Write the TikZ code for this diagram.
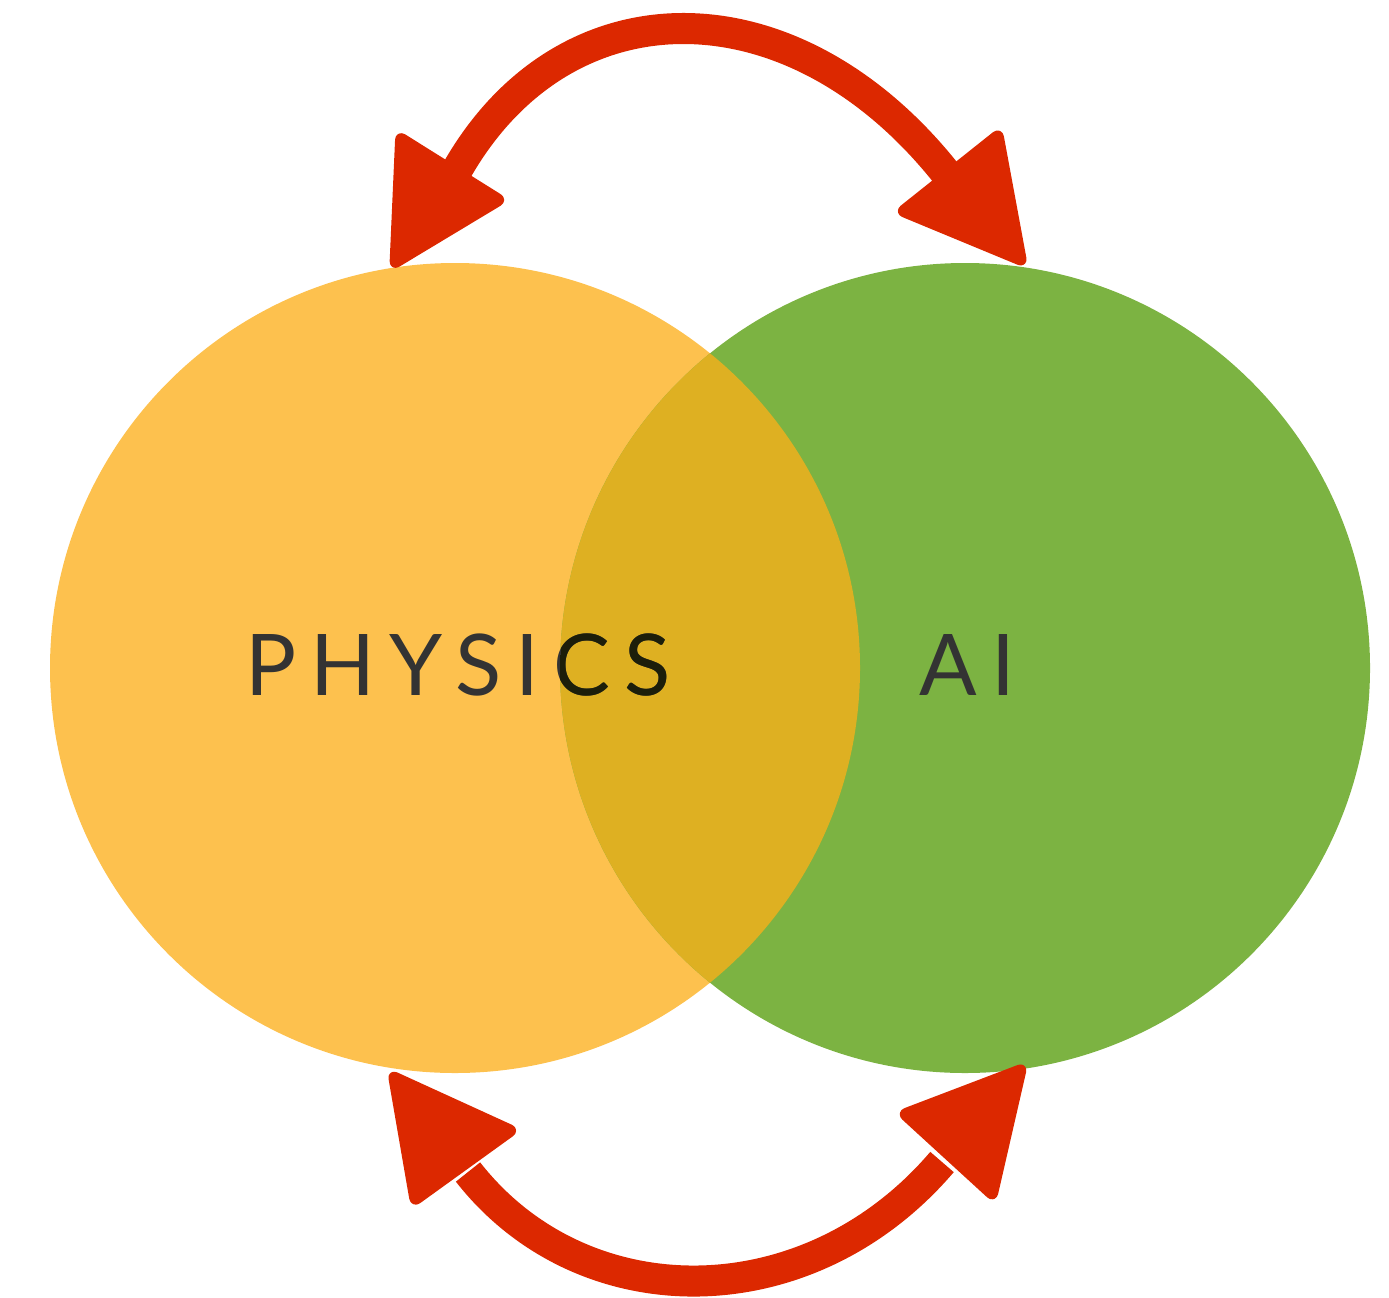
\documentclass[tikz,border=0pt]{standalone}
\usepackage{fontspec}
\setmainfont{Lato}

\definecolor{physyellow}{HTML}{FDC14E}
\definecolor{aigreen}{HTML}{7CB342}
\definecolor{mixgold}{HTML}{DEB022}
\definecolor{brushred}{HTML}{DC2800}
\definecolor{labelgray}{HTML}{333333}
\definecolor{labeldark}{HTML}{1C1E0A}

\tikzset{
  venn text/.style={font=\fontsize{24.2}{29}\selectfont\addfontfeature{LetterSpace=16.5},
    text=labelgray, inner sep=0pt, anchor=base west},
  brush/.style={draw=brushred, line width=0.31cm, line cap=butt},
  brush head/.style={fill=brushred, draw=brushred, line width=1.5pt, line join=round, rounded corners=2pt},
}

\begin{document}
\begin{tikzpicture}[x=0.01cm, y=-0.01cm]
    \useasboundingbox (0,0) rectangle (1389,1297);

    % the two sets
    \fill[physyellow] (455,668) circle[radius=405];
    \fill[aigreen] (965,668) circle[radius=405];
    \begin{scope}
        \clip (455,668) circle[radius=405];
        \fill[mixgold] (965,668) circle[radius=405];
    \end{scope}

    \node[venn text] (phys) at (245,695) {PHYSICS};
    \node[venn text] (ai) at (919,695) {AI};
    \begin{scope}
        \clip (455,668) circle[radius=405];
        \clip (965,668) circle[radius=405];
        \node[venn text, text=labeldark] at (phys.base west) {PHYSICS};
    \end{scope}

    % ends of the two arcs
    \coordinate (tl) at (457,170);
    \coordinate (tr) at (945,172);
    \coordinate (bl) at (468,1172);
    \coordinate (br) at (942,1162);

    \draw[brush] (tl) .. controls (565,-19) and (792,-19) .. (tr);
    \draw[brush] (bl) .. controls (583,1319) and (808,1319) .. (br);

    % arrow heads
    \fill[brush head] (398,133) -- (392,268) -- (505,200) -- cycle;
    \fill[brush head] (1000,130) -- (1025,265) -- (897,212) -- cycle;
    \fill[brush head] (390,1072) -- (413,1205) -- (517,1130) -- cycle;
    \fill[brush head] (1025,1065) -- (994,1200) -- (899,1113) -- cycle;
\end{tikzpicture}
\end{document}
